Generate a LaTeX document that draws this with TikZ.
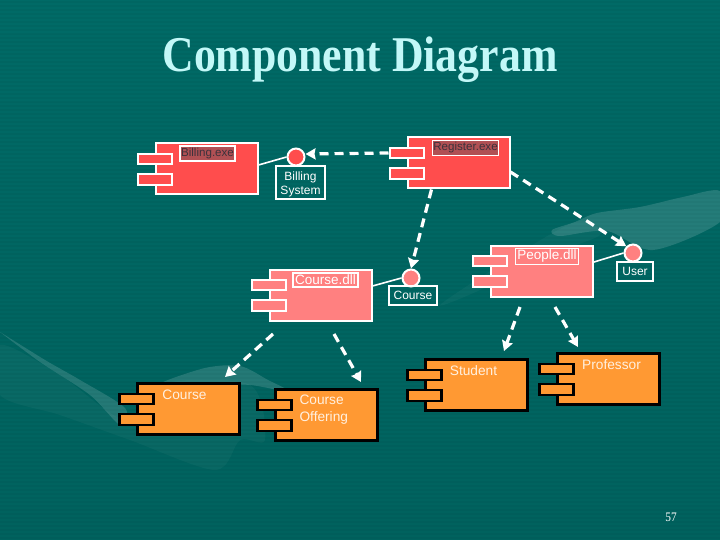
\documentclass[tikz,border=0pt]{standalone}
\usepackage{fontspec}
\setmainfont{Liberation Sans}
\newfontfamily\titlefont[FakeStretch=0.875]{Liberation Serif}
\usetikzlibrary{arrows.meta}
\definecolor{bgtop}{RGB}{0,106,102}
\definecolor{bgmid}{RGB}{0,110,104}
\definecolor{bgbot}{RGB}{0,98,94}
\definecolor{titlecyan}{RGB}{195,248,248}
\definecolor{exered}{RGB}{255,77,77}
\definecolor{dllpink}{RGB}{255,128,128}
\definecolor{classorange}{RGB}{255,153,51}
\definecolor{exelabel}{RGB}{176,80,84}
\definecolor{exetext}{RGB}{60,50,60}
\tikzset{
  exebox/.style={rectangle, draw=white, fill=exered, line width=2pt, minimum width=102pt, minimum height=51pt, inner sep=0pt},
  exetab/.style={rectangle, draw=white, fill=exered, line width=2pt, minimum width=34pt, minimum height=10.5pt, inner sep=0pt},
  dllbox/.style={exebox, fill=dllpink},
  dlltab/.style={exetab, fill=dllpink},
  classbox/.style={exebox, draw=black, fill=classorange, line width=2.4pt},
  classtab/.style={exetab, draw=black, fill=classorange, line width=2.4pt},
  exelabelbox/.style={rectangle, draw=white, fill=exelabel, line width=1.4pt, inner xsep=1pt, inner ysep=2pt, text=exetext, font=\fontsize{11.6}{13}\selectfont},
  dlllabelbox/.style={rectangle, draw=white, fill=dllpink, line width=1.4pt, inner sep=2pt, text=white, font=\fontsize{13.5}{15}\selectfont},
  classtext/.style={text=white!85!classorange, align=left, font=\fontsize{13.7}{17}\selectfont},
  iface/.style={circle, draw=white, line width=2pt, minimum size=17pt, inner sep=0pt},
  ifacebox/.style={rectangle, draw=white, line width=1.4pt, text=white, align=center, inner sep=0pt, font=\fontsize{12}{14}\selectfont},
  realize/.style={draw=white, line width=1.6pt},
  depend/.style={draw=white, line width=3.2pt, dash pattern=on 9pt off 6pt, -{Stealth[length=10pt, width=11pt, inset=1pt]}},
  stripe/.style={draw=black, opacity=0.03, line width=1.5pt},
  swoosh/.style={fill=white, opacity=0.14, draw=none},
  faintswoosh/.style={fill=white, opacity=0.035, draw=none}
}
\begin{document}
\begin{tikzpicture}[x=1pt, y=-1pt]
  % Backdrop
  \shade[top color=bgtop, middle color=bgmid, bottom color=bgbot] (0,0) rectangle (720,540);
  \useasboundingbox (0,0) rectangle (720,540);
  \fill[faintswoosh] plot[smooth cycle] coordinates {(440,305) (500,265) (575,222) (600,235) (540,258) (480,290)};
  \fill[swoosh] plot[smooth cycle] coordinates {(720,191) (683,197) (640,207) (597,213) (575,222) (552,230) (560,236) (607,231) (653,250) (720,222)};
  \fill[swoosh] plot[smooth] coordinates {(0,332) (45,360) (80,380) (125,408) (120,425) (90,395) (40,362) (0,332)};
  \fill[swoosh] plot[smooth cycle] coordinates {(160,384) (205,368) (240,366) (268,380) (290,392) (250,385) (200,384)};
  \fill[faintswoosh] plot[smooth cycle] coordinates {(0,395) (60,415) (130,440) (215,470) (240,440) (265,440) (250,385) (160,384) (125,420) (60,375) (0,345)};
  \foreach \y in {2,6,...,538}
    \draw[stripe] (0,\y) -- (720,\y);

  % Title and page number
  \node[text=titlecyan, font=\titlefont\bfseries\fontsize{50}{54}\selectfont] (title) at (360,60) {Component Diagram};
  \node[text=white, font=\titlefont\fontsize{13}{15}\selectfont] (pagenum) at (671,517) {57};

  % Billing.exe
  \node[exebox] (billing) at (206.5,169) {};
  \node[exetab] (billingtabA) at ([yshift=10pt]billing.west) {};
  \node[exetab] (billingtabB) at ([yshift=-10.5pt]billing.west) {};
  \node[exelabelbox] (billinglabel) at (207.5,153.5) {Billing.exe};
  \node[iface, fill=exered] (billingcirc) at (296,157) {};
  \node[ifacebox, minimum width=49pt, minimum height=33pt] (billingname) at (300.5,182.5) {\rule{0pt}{13pt}Billing\\System};

  % Register.exe
  \node[exebox] (register) at (458.5,163) {};
  \node[exetab] (registertabA) at ([yshift=10pt]register.west) {};
  \node[exetab] (registertabB) at ([yshift=-10.5pt]register.west) {};
  \node[exelabelbox] (registerlabel) at (465.5,148) {Register.exe};

  % Course.dll
  \node[dllbox] (coursedll) at (320.5,295) {};
  \node[dlltab] (coursedlltabA) at ([yshift=10pt]coursedll.west) {};
  \node[dlltab] (coursedlltabB) at ([yshift=-10.5pt]coursedll.west) {};
  \node[dlllabelbox] (coursedlllabel) at (325.5,280) {Course.dll};
  \node[iface, fill=dllpink] (coursecirc) at (411,278) {};
  \node[ifacebox, minimum width=48pt, minimum height=19pt] (coursename) at (413,295.5) {Course};

  % People.dll
  \node[dllbox] (people) at (542,271) {};
  \node[dlltab] (peopletabA) at ([yshift=10pt]people.west) {};
  \node[dlltab] (peopletabB) at ([yshift=-10.5pt]people.west) {};
  \node[dlllabelbox] (peoplelabel) at (547,256.5) {People.dll};
  \node[iface, fill=dllpink] (usercirc) at (633,253) {};
  \node[ifacebox, minimum width=36pt, minimum height=19pt] (username) at (635,271.5) {User};

  % Course
  \node[classbox] (course) at (188.5,409) {};
  \node[classtab] (coursetabA) at ([yshift=10pt]course.west) {};
  \node[classtab] (coursetabB) at ([yshift=-10.5pt]course.west) {};
  \node[classtext] (coursetext) at (184.5,395) {Course};

  % Course Offering
  \node[classbox] (offering) at (326.5,415) {};
  \node[classtab] (offeringtabA) at ([yshift=10pt]offering.west) {};
  \node[classtab] (offeringtabB) at ([yshift=-10.5pt]offering.west) {};
  \node[classtext, anchor=west] (offeringtext) at (296,410) {Course\\Offering};

  % Student
  \node[classbox] (student) at (476.5,385) {};
  \node[classtab] (studenttabA) at ([yshift=10pt]student.west) {};
  \node[classtab] (studenttabB) at ([yshift=-10.5pt]student.west) {};
  \node[classtext] (studenttext) at (473.5,371) {Student};

  % Professor
  \node[classbox] (professor) at (608.5,379) {};
  \node[classtab] (professortabA) at ([yshift=10pt]professor.west) {};
  \node[classtab] (professortabB) at ([yshift=-10.5pt]professor.west) {};
  \node[classtext] (professortext) at (611.5,365) {Professor};

  % Free ends of the package arrows
  \coordinate (coursefrom) at (273,334);
  \coordinate (courseto) at (225,377);
  \coordinate (offeringfrom) at (334,334);
  \coordinate (offeringto) at (361,382);
  \coordinate (studentfrom) at (520,307);
  \coordinate (studentto) at (504,351);
  \coordinate (professorfrom) at (555,307);
  \coordinate (professorto) at (578,347);

  % Realizations
  \draw[realize] ([yshift=4pt]billing.east) -- (billingcirc.west);
  \draw[realize] ([yshift=9pt]coursedll.east) -- (coursecirc.west);
  \draw[realize] ([yshift=9pt]people.east) -- (usercirc.west);

  % Dependencies
  \draw[depend] (registertabA.west) -- ([yshift=3pt]billingcirc.east);
  \draw[depend] ([xshift=-27pt]register.south) -- (coursecirc.north);
  \draw[depend] ([yshift=-9pt]register.east) -- (usercirc.north west);
  \draw[depend] (coursefrom) -- (courseto);
  \draw[depend] (offeringfrom) -- (offeringto);
  \draw[depend] (studentfrom) -- (studentto);
  \draw[depend] (professorfrom) -- (professorto);
\end{tikzpicture}
\end{document}
